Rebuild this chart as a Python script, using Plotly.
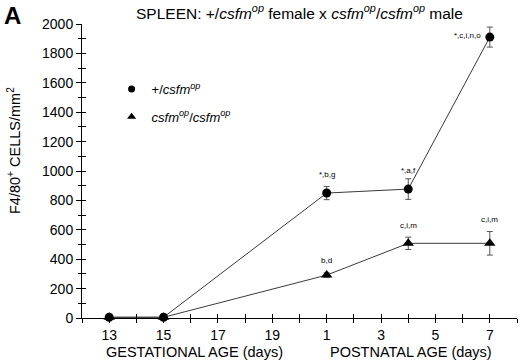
import plotly.graph_objects as go

# x positions: gestational days 13..19 continue into postnatal 1 (=21), 3 (=23), ...
x_het = [13, 15, 21, 24, 27]
y_het = [5, 5, 850, 877, 1911]
err_het = [5, 5, 45, 70, 68]
x_op = [13, 15, 21, 24, 27]
y_op = [5, 5, 292, 508, 508]
err_op = [5, 5, 15, 42, 80]

lbl_het = ["", "", "*,b,g", "*,a,f", "*,c,i,n,o"]
lbl_op = ["", "", "b,d", "c,i,m", "c,i,m"]

tick_vals = [13, 15, 17, 19, 21, 23, 25, 27]
tick_text = ["13", "15", "17", "19", "1", "3", "5", "7"]

FONT = "Liberation Sans, Arial, sans-serif"
LINE = "#3a3a3a"

fig = go.Figure()
fig.add_trace(go.Scatter(
    x=x_het, y=y_het, mode="lines+markers", showlegend=False,
    line=dict(color=LINE, width=1),
    marker=dict(symbol="circle", size=9, color="black"),
    error_y=dict(type="data", array=err_het, color="#555", thickness=1, width=3),
    cliponaxis=False))
fig.add_trace(go.Scatter(
    x=x_op, y=y_op, mode="lines+markers", showlegend=False,
    line=dict(color=LINE, width=1),
    marker=dict(symbol="triangle-up", size=10, color="black"),
    error_y=dict(type="data", array=err_op, color="#555", thickness=1, width=3),
    cliponaxis=False))
# legend entries (markers only)
fig.add_trace(go.Scatter(x=[None], y=[None], mode="markers", name="+/<i>csfm<sup>op</sup></i>",
                         legendgroup="a",
                         marker=dict(symbol="circle", size=7, color="black")))
fig.add_trace(go.Scatter(x=[None], y=[None], mode="markers", legendgroup="b",
                         name="<i>csfm<sup>op</sup></i>/<i>csfm<sup>op</sup></i>",
                         marker=dict(symbol="triangle-up", size=8, color="black")))
# overlay trace for inside tick halves
fig.add_trace(go.Scatter(x=[13], y=[0], xaxis="x2", yaxis="y2", mode="markers",
                         marker=dict(opacity=0), showlegend=False, hoverinfo="skip"))

SMALL = dict(size=8, family=FONT, color="black")
annots = []
for xv, yv, t in zip(x_het, y_het, lbl_het):
    if not t:
        continue
    if t.startswith("*,c"):
        annots.append(dict(x=xv, y=yv, text=t, showarrow=False, xanchor="right", yanchor="middle",
                           xshift=-7, yshift=2, font=SMALL))
    else:
        annots.append(dict(x=xv, y=yv, text=t, showarrow=False, xanchor="center", yanchor="middle",
                           yshift=19, font=SMALL))
for xv, yv, t, e in zip(x_op, y_op, lbl_op, err_op):
    if not t:
        continue
    annots.append(dict(x=xv, y=yv + e, text=t, showarrow=False, xanchor="center", yanchor="middle",
                       yshift=12, font=SMALL))

annots += [
    dict(xref="paper", yref="paper", x=0.501, y=1.0, yshift=12, xanchor="center", yanchor="middle",
         text="SPLEEN: +/<i>csfm<sup>op</sup></i> female x <i>csfm<sup>op</sup></i>/<i>csfm<sup>op</sup></i> male",
         showarrow=False, font=dict(size=15.5, family=FONT, color="black")),
    dict(xref="paper", yref="paper", x=0, y=1.0, xshift=-80, yshift=9, xanchor="left", yanchor="middle",
         text="<b>A</b>", showarrow=False, font=dict(size=24, family=FONT, color="black")),
    dict(xref="paper", yref="paper", x=0, y=0.5, xshift=-68, yshift=20, textangle=-90,
         xanchor="center", yanchor="middle",
         text="F4/80<sup>+</sup> CELLS/mm<sup>2</sup>", showarrow=False,
         font=dict(size=14.5, family=FONT, color="black")),
    dict(xref="paper", yref="paper", x=(194 - 82) / 435, y=0, yshift=-34, xanchor="center", yanchor="middle",
         text="GESTATIONAL AGE (days)", showarrow=False, font=dict(size=14.5, family=FONT, color="black")),
    dict(xref="paper", yref="paper", x=(411 - 82) / 435, y=0, yshift=-34, xanchor="center", yanchor="middle",
         text="POSTNATAL AGE (days)", showarrow=False, font=dict(size=14.5, family=FONT, color="black")),
]

fig.update_layout(
    width=520, height=362,
    margin=dict(l=82, r=3, t=24, b=44),
    paper_bgcolor="white", plot_bgcolor="white",
    font=dict(family=FONT, size=14, color="black"),
    showlegend=True,
    legend=dict(x=0.068, y=0.83, xanchor="left", yanchor="top", bgcolor="rgba(0,0,0,0)",
                font=dict(size=13, family=FONT), itemwidth=30, tracegroupgap=8),
    xaxis=dict(range=[12, 28], tickvals=tick_vals, ticktext=tick_text,
               showgrid=False, zeroline=False, showline=True, linecolor="black", linewidth=1,
               ticks="outside", ticklen=4, tickcolor="black", tickwidth=1,
               minor=dict(dtick=1, tick0=12, ticks="outside", ticklen=4, tickcolor="black", showgrid=False),
               tickfont=dict(size=14), fixedrange=True),
    yaxis=dict(range=[0, 2000], tickvals=list(range(0, 2001, 200)),
               showgrid=False, zeroline=False, showline=True, linecolor="black", linewidth=1,
               ticks="outside", ticklen=5, tickcolor="black", tickwidth=1,
               minor=dict(dtick=100, ticks="outside", ticklen=3, tickcolor="black", showgrid=False),
               tickfont=dict(size=14), fixedrange=True),
    xaxis2=dict(range=[12, 28], overlaying="x", anchor="y2", showgrid=False, zeroline=False,
                showticklabels=False, tickvals=tick_vals + [12, 14, 16, 18, 20, 22, 24, 26, 28],
                ticks="inside", ticklen=4, tickcolor="black", side="bottom", fixedrange=True),
    yaxis2=dict(range=[0, 2000], overlaying="y", anchor="x2", showgrid=False, zeroline=False,
                showticklabels=False, tickvals=list(range(0, 2001, 100)),
                ticks="inside", ticklen=4, tickcolor="black", side="left", fixedrange=True),
    annotations=annots,
)

fig.write_html("out.html", config={"displayModeBar": False},
               post_script="document.body.style.margin='0';document.body.style.padding='0';")
